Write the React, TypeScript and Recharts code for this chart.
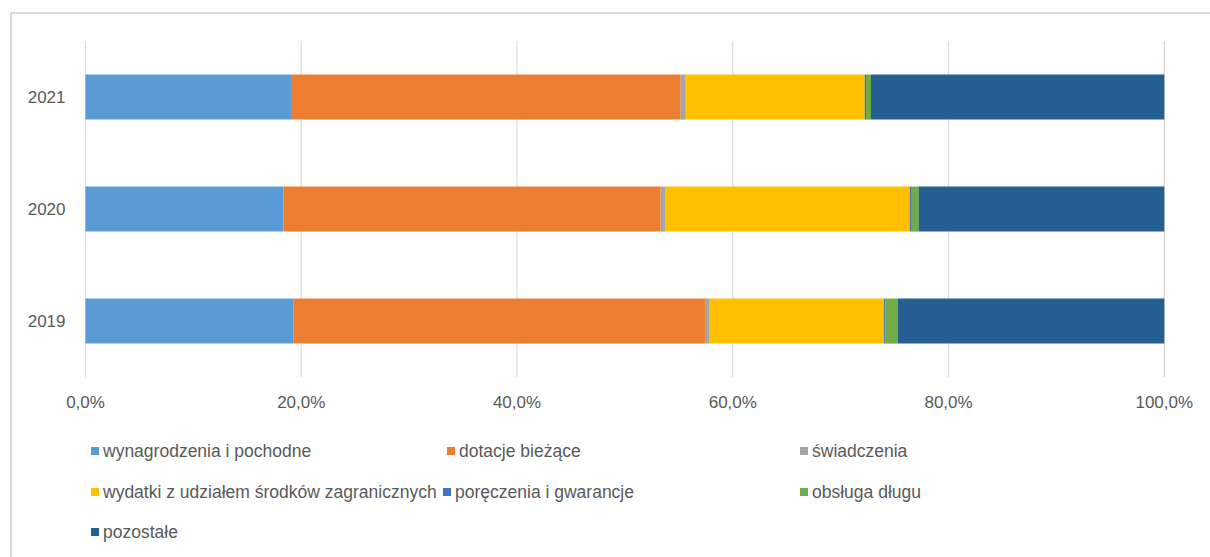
import React from 'react';
import { BarChart, Bar, XAxis, YAxis, CartesianGrid } from 'recharts';

// lata (od góry)
const years = ['2021', '2020', '2019'];

// udziały w wydatkach, %
const wynagrodzenia = [19.05, 18.34, 19.26];
const dotacje = [36.12, 34.98, 38.17];
const swiadczenia = [0.47, 0.4, 0.37];
const wydatkiZagraniczne = [16.59, 22.68, 16.22];
const poreczenia = [0.12, 0.12, 0.14];
const obslugaDlugu = [0.46, 0.71, 1.15];
const pozostale = [27.19, 22.77, 24.69];

const xTicks = [0, 20, 40, 60, 80, 100];

const series = [
  { key: 'wyn', name: 'wynagrodzenia i pochodne', color: '#5b9bd5', values: wynagrodzenia },
  { key: 'dot', name: 'dotacje bieżące', color: '#ed7d31', values: dotacje },
  { key: 'swi', name: 'świadczenia', color: '#a5a5a5', values: swiadczenia },
  { key: 'wyd', name: 'wydatki z udziałem środków zagranicznych', color: '#ffc000', values: wydatkiZagraniczne },
  { key: 'por', name: 'poręczenia i gwarancje', color: '#4472c4', values: poreczenia },
  { key: 'obs', name: 'obsługa długu', color: '#70ad47', values: obslugaDlugu },
  { key: 'poz', name: 'pozostałe', color: '#255e91', values: pozostale },
];

const data = years.map((year, i) => {
  const row: Record<string, string | number> = { year };
  series.forEach((s) => {
    row[s.key] = s.values[i];
  });
  return row;
});

// rozmieszczenie legendy jak w Excelu (3 kolumny)
const legendPos: Record<string, { left: number; top: number }> = {
  wyn: { left: 91, top: 451 },
  dot: { left: 447, top: 451 },
  swi: { left: 800, top: 451 },
  wyd: { left: 91, top: 492 },
  por: { left: 443, top: 492 },
  obs: { left: 800, top: 492 },
  poz: { left: 91, top: 532 },
};

const font = '"Liberation Sans", Arial, sans-serif';
const textColor = '#595959';

const fmt = (v: number) => `${v.toFixed(1).replace('.', ',')}%`;

export default function App() {
  return (
    <div style={{ position: 'absolute', left: 0, top: 0, width: 1210, height: 557, overflow: 'hidden', background: '#fff', fontFamily: font }}>
      <div
        style={{
          position: 'absolute',
          left: 10,
          top: 12,
          width: 1220,
          height: 560,
          border: '2px solid #d9d9d9',
        }}
      />
      <div style={{ position: 'absolute', left: 0, top: 0 }}>
        <BarChart
          width={1210}
          height={557}
          data={data}
          layout="vertical"
          barCategoryGap="30%"
          margin={{ top: 41, right: 45.7, left: 0, bottom: 150 }}
        >
          <CartesianGrid horizontal={false} stroke="#d9d9d9" />
          <XAxis
            type="number"
            domain={[0, 100]}
            ticks={xTicks}
            tickFormatter={fmt}
            axisLine={false}
            tickLine={false}
            tickSize={0}
            tickMargin={19}
            height={30}
            interval={0}
            tick={{ fill: textColor, fontSize: 17, fontFamily: font }}
          />
          <YAxis
            type="category"
            dataKey="year"
            width={85.5}
            axisLine={false}
            tickLine={false}
            tickSize={0}
            tickMargin={20}
            tick={{ fill: textColor, fontSize: 17, fontFamily: font }}
          />
          {series.map((s) => (
            <Bar key={s.key} dataKey={s.key} name={s.name} stackId="a" fill={s.color} isAnimationActive={false} />
          ))}
        </BarChart>
      </div>
      {series.map((s) => (
        <div
          key={s.key}
          style={{
            position: 'absolute',
            left: legendPos[s.key].left,
            top: legendPos[s.key].top - 11,
            height: 22,
            display: 'flex',
            alignItems: 'center',
            whiteSpace: 'nowrap',
            fontSize: 17.5,
            color: textColor,
          }}
        >
          <span style={{ display: 'inline-block', width: 8, height: 8, background: s.color, marginRight: 4 }} />
          <span>{s.name}</span>
        </div>
      ))}
    </div>
  );
}
